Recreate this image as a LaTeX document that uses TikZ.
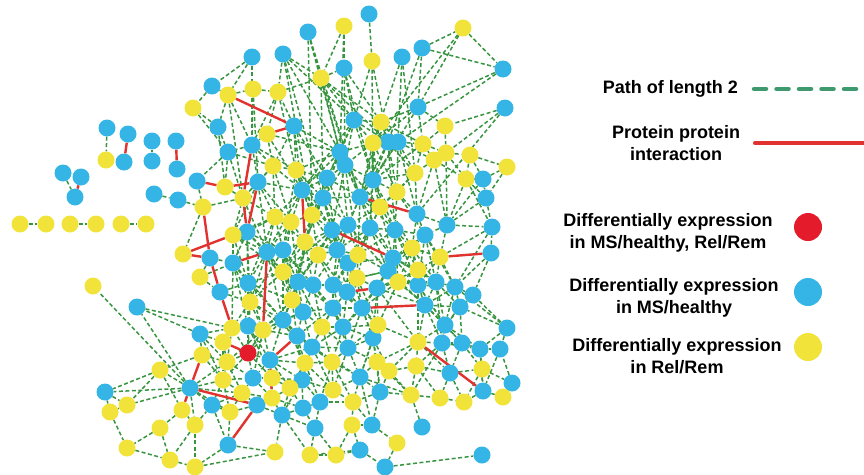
\documentclass[tikz,border=0pt]{standalone}
\usepackage{fontspec}
\setmainfont{Liberation Sans}
\usepackage{tikz}
\usetikzlibrary{backgrounds}
\definecolor{msblue}{HTML}{35B5E5}
\definecolor{relyellow}{HTML}{F2E33A}
\definecolor{bothred}{HTML}{E31B2B}
\definecolor{pathgreen}{HTML}{37943F}
\definecolor{legendgreen}{HTML}{3E9A6E}
\definecolor{ppired}{HTML}{E0322F}

\begin{document}
\begin{tikzpicture}[
  x=1pt, y=-1pt,
  gene/.style={circle, inner sep=0pt, minimum size=17pt},
  bluegene/.style={gene, fill=msblue},
  yellowgene/.style={gene, fill=relyellow},
  redgene/.style={gene, fill=bothred},
  pathtwo/.style={draw=pathgreen, line width=1.5pt, dash pattern=on 4pt off 2.5pt},
  ppi/.style={draw=ppired, line width=2.4pt},
  legendtext/.style={font=\fontsize{18}{22}\selectfont\bfseries, align=center, inner sep=0pt},
  legendpath/.style={draw=legendgreen, line width=4.5pt, line cap=round, dash pattern=on 12pt off 10.5pt},
  legendppi/.style={draw=ppired, line width=4pt, line cap=round}
]
  \useasboundingbox (0,0) rectangle (864,474);

  % genes in MS/healthy
  \foreach \n/\x/\y in {b1/369/14, b2/308/32, b3/422/48, b4/402/57, b5/252/57, b6/283/54, b7/344/68, b8/503/69,
    b9/212/86, b10/418/107, b11/505/108, b12/354/120, b13/294/126, b14/218/127, b15/252/145, b16/340/152,
    b17/388/142, b18/398/142, b19/228/152, b20/107/128, b21/128/134, b22/124/162, b23/152/141, b24/152/161,
    b25/176/141, b26/177/169, b27/63/173, b28/81/177, b29/75/197, b30/154/194, b31/178/200, b32/197/181,
    b33/258/182, b34/302/190, b35/327/178, b36/323/198, b37/247/232, b38/373/180, b39/483/179, b40/486/198,
    b41/360/197, b42/417/214, b43/447/225, b44/492/227, b45/345/165, b46/210/258, b47/233/263, b48/267/252,
    b49/283/250, b50/248/283, b51/313/285, b52/298/282, b53/220/292, b54/303/312, b55/200/334, b56/248/326,
    b57/283/320, b58/297/336, b59/332/230, b60/348/225, b61/370/228, b62/395/230, b63/425/235, b64/491/253,
    b65/337/250, b66/393/258, b67/388/271, b68/348/263, b69/418/285, b70/436/282, b71/455/287, b72/473/295,
    b73/333/285, b74/347/292, b75/377/288, b76/425/305, b77/460/307, b78/333/308, b79/362/308, b80/445/325,
    b81/507/328, b82/343/327, b83/312/347, b84/348/348, b85/373/338, b86/442/343, b87/462/343, b88/480/349,
    b89/500/349, b90/450/373, b91/512/383, b92/360/377, b93/302/380, b94/380/392, b95/483/391, b96/320/402,
    b97/303/408, b98/315/428, b99/372/425, b100/422/427, b101/360/450, b102/385/467, b103/482/455, b104/270/360,
    b105/253/378, b106/190/388, b107/105/392, b108/212/405, b109/257/405, b110/282/415, b111/228/445, b112/137/307}
    \node[bluegene] (\n) at (\x,\y) {};

  % genes in Rel/Rem
  \foreach \n/\x/\y in {y1/344/26, y2/463/28, y3/372/61, y4/321/78, y5/253/89, y6/278/92, y7/228/95, y8/193/108,
    y9/381/122, y10/445/126, y11/267/134, y12/373/143, y13/423/144, y14/446/153, y15/470/155, y16/106/160,
    y17/20/224, y18/46/224, y19/70/224, y20/96/224, y21/121/224, y22/146/224, y23/273/166, y24/296/170,
    y25/225/187, y26/243/198, y27/203/207, y28/275/217, y29/291/222, y30/312/215, y31/434/160, y32/507/167,
    y33/415/173, y34/466/179, y35/397/192, y36/380/207, y37/233/235, y38/183/254, y39/305/242, y40/318/255,
    y41/200/277, y42/283/272, y43/250/302, y44/292/300, y45/232/328, y46/263/330, y47/322/327, y48/412/248,
    y49/440/257, y50/358/255, y51/418/270, y52/357/278, y53/398/282, y54/378/325, y55/418/342, y56/305/363,
    y57/332/362, y58/377/362, y59/389/371, y60/416/366, y61/482/369, y62/333/390, y63/411/395, y64/440/398,
    y65/464/402, y66/503/397, y67/353/402, y68/352/425, y69/397/443, y70/310/455, y71/336/455, y72/223/342,
    y73/202/355, y74/227/362, y75/160/370, y76/223/380, y77/272/378, y78/242/393, y79/272/398, y80/290/388,
    y81/127/405, y82/110/412, y83/230/412, y84/182/410, y85/160/428, y86/195/425, y87/127/448, y88/170/460,
    y89/195/467, y90/275/452, y91/93/286}
    \node[yellowgene] (\n) at (\x,\y) {};

  % gene in both
  \node[redgene] (r1) at (248,353) {};

  \begin{pgfonlayer}{background}
    % paths of length 2
    \foreach \a/\b in {b1/y3, b2/y4, b2/b16, y1/y4, y1/b7, y1/b16, b6/y4, b6/y6, b6/b16, b6/b12, b5/b9, b5/y7,
      b9/y8, b9/y7, y7/y5, y5/y6, y6/y4, y4/b7, y4/b12, y4/y9, y4/b16, y4/b17, b7/y9, b7/b12, y3/b12, y3/b17,
      b4/b18, b4/y12, b3/y2, b3/b8, y2/b8, y2/b10, b3/b10, b10/b8, b10/y9, b10/y12, b10/y13, b11/y10, b11/y14,
      b10/y10, y10/y13, y10/y14, b13/b16, b13/y6, b13/y23, b13/y24, y6/b15, y6/y11, y5/b15, y7/b14, y7/b15,
      b14/b19, b14/y8, b15/b19, b15/y11, y11/y23, y11/b16, y8/b19, b19/y25, b19/b32, b15/y23, b15/b33,
      b12/y9, b12/b16, b12/y12, b12/b17, b12/b45, b12/b35, y9/b17, y9/b18, y9/y12, y9/y13,
      b16/b45, b16/b35, b16/y12, b16/y24, b16/b34, b17/b18, b17/y12, b17/b38, b17/y33, b17/y35,
      b18/y13, b18/y33, b18/y31, b18/b38, y12/b38, y12/b45, y12/b41, y13/y14, y13/y31, y13/y33,
      y14/y15, y14/y31, y14/y34, y15/y34, y15/b39, y15/y32, b45/b35, b45/b38, b45/b41, b45/b36,
      y31/y33, y31/y34, y31/b43, y33/b38, y33/y35, y33/b42, b38/y35, b38/b41, b38/y36, b38/b61,
      y34/b39, y34/b40, y34/b43, b39/b40, b39/y32, y32/b40, b35/b34, b35/b36, b35/y24, y24/y23, y24/b34,
      y23/b34, y23/y28, y23/b33, b34/b36, b34/y30, b34/y29, b36/y30, b36/b41, b36/b59, b36/b60,
      b41/y36, b41/b60, b41/b61, y35/y36, y35/b42, y35/b62, y36/b61, y36/b62, b40/b43, b40/b44,
      y30/y29, y30/b59, y30/y39, y29/y28, y29/y39, y29/b49, y28/b49, y28/b48, y28/b37, b33/y28, b33/y26,
      b43/b44, b43/b63, b43/y49, b59/b60, b59/b65, b59/y39, b59/y40, b60/b61, b60/b65, b60/y50,
      b61/b62, b61/y50, b61/b66, b62/b63, b62/y48, b62/b66, b63/y48, b63/y49, b37/y37, b37/b48, b37/b47,
      y37/b47, y37/y26, y39/y40, y39/b49, y39/y42, b49/b48, b49/y42, b49/b52, b48/y42, b48/b50,
      y48/y49, y48/y51, y48/b66, y50/b65, y50/b68, y50/y52, b65/y40, b65/b68, b65/b73, y40/b51, y40/b73,
      y49/b64, y49/b70, y49/y51, b64/b72, b64/b44, b66/b67, b66/y51, b66/y53, b68/y52, b68/b73, b68/b74,
      b67/y52, b67/y53, b67/b75, y51/b69, y51/y53, y51/b70, y42/b52, y42/b50, y42/y44, y52/b74, y52/b75,
      y53/b75, y53/b69, b47/b50, b47/y43, b52/b51, b52/y44, b52/b54, b51/b73, b51/b54, b51/b78,
      b73/b74, b73/b78, b74/b79, b74/b78, b75/b79, b75/y54, b69/b70, b69/b76, b70/b71, b70/b76,
      b71/b72, b71/b77, b72/b77, b72/b81, b50/y43, b50/y44, y43/b56, y43/y46, y43/b57, y44/b54, y44/b57,
      b54/b78, b54/y47, b54/b57, b78/b79, b78/y47, b78/b82, b79/y54, b79/b82, b76/b77, b76/b80, b76/y55,
      b77/b80, b77/b87, b80/b86, b80/b87, b80/y55, b81/b89, b81/b77, y54/b85, y54/y55, b57/y46, b57/b58,
      y47/b82, y47/b83, b82/b84, b82/b85, y46/b56, y46/b58, b56/y45, b56/b104, b58/b83,
      b85/b84, b85/y58, y55/b86, y55/y60, b86/b87, b86/b90, b87/b88, b88/b89, b88/y61,
      b83/b84, b83/y56, b83/y57, b84/y57, b84/b92,
      y56/y57, y56/b93, y56/y62, y57/b92, y57/y62, y58/y59, y58/b92, y58/b94, y59/y60, y59/y63, y59/b94,
      y60/y63, y60/b90, b90/y61, b90/y64, b90/y65, y61/b95, y61/b91, b95/y66, b95/y65, b91/y66, b91/b89,
      b92/y62, b92/b94, b92/y67, b93/y62, b93/b96, b93/b97, y62/b96, y62/y67, b94/y63, b94/y67, b94/b99,
      y63/y64, y63/b100, y64/y65, b96/b97, b96/y67, b96/b98, b97/b98, y67/y68, y67/b99, b98/y70, b98/y71,
      y68/b101, y68/y71, y68/b99, b99/y69, b101/y71, b101/y70, b101/b102, y69/b102, b102/b103, y70/y71,
      b55/y72, b55/y73, b55/y45, b55/b112, y72/y74, y72/y45, r1/y74, r1/b56, r1/y46, r1/b104, r1/y45, r1/b105,
      y73/y74, y73/y75, y74/y76, y74/b105, b104/b105, b104/y77, b104/b83, y76/b105, y76/y78, y76/b106,
      b105/y77, b105/y78, y77/y79, y77/y80, y78/y79, y78/y83, y78/b109, y79/b110, y79/y80, y80/b110, y80/b93,
      b106/y75, b106/b107, b106/y81, b106/y86, b106/b108, b106/y83, b106/y91, b106/b112,
      y75/b107, y75/y81, y75/y84, b107/y82, b107/y81, y81/y82, y82/y87, y84/y85, y84/y86, y85/y87, y85/y88,
      y86/y88, y86/y89, y86/b108, b108/y83, b108/b111, y83/b111, b109/b110, b110/y90, b110/b98,
      b111/y90, b111/y89, y87/y88, y88/y89, y89/y90, b112/y45,
      b32/y27, y25/y26, y27/y26, y27/y38, b30/b31, b31/y27, y41/b46, y41/b53, y41/b47, b46/b47,
      b53/b50, b53/y43, b20/y16, b23/b24, b27/b29, y17/y18, y19/y20, y21/y22}
      \draw[pathtwo] (\a) -- (\b);
    % more paths of length 2 into the core
    \foreach \a/\b in {b2/b41, b2/y30, y1/b45, b6/y30, b6/b36, y4/b41, y4/b36, b7/b38, y3/b38, b4/y33,
      b3/b17, y2/y12, b8/b18, b10/b38, b11/b42, y7/y26, b14/y25, y5/b33, y6/y24, b5/b15,
      b16/b41, b35/b60, b35/y30, y24/y30, y23/y29, b34/b59, y30/b65, y29/b48, y28/y37, b36/y39, b36/b65,
      b41/b62, b41/y50, b45/y36, y12/y35, b17/b41, b18/y35, y13/b38, y33/y36, y31/b42, y14/b43, y34/b44,
      b39/b43, b42/b43, b42/b63, b42/y48, y36/b60, b60/y40, b61/b65, b61/b68, b62/y50, b62/y51, b63/b66,
      b63/b70, y48/b67, y48/b69, y49/b69, y49/b71, b44/b71, b44/y49, b64/b71, b59/y42, y39/b52, y39/b65,
      y40/y42, y40/b52, y40/b74, b68/b66, y50/b67, y50/b73, y52/b73, y52/b79, y52/b67, b67/b69, b66/b69,
      y53/b70, y53/b79, b75/y51, b75/b76, b69/b71, b69/b80, b70/b77, b70/b80, b71/b76, b71/b80, b72/b80,
      b73/b79, b74/b82, b75/b85, b79/b85, b76/b86, y54/b82, y54/b84, b82/b83, y47/b84, b51/y47, b52/b57,
      y44/b58, y44/y46, b54/b58, b54/b83, b78/b83, b78/b84, y42/y43, y42/b54, b48/y43, b48/y44, b49/y44,
      b49/b51, b37/y43, b37/b50, y37/b50, y37/b48, b33/y37, b33/b48, y28/y39, y26/y28, b47/b56, b47/y45,
      b50/b56, b50/b57, y43/y45, y43/r1, b56/b57, b57/b104, b57/b83, y46/b104, y46/y74, b58/y56, b58/y57,
      b83/b92, b84/y58, b85/b92, b85/y59, y55/y59, y55/b90, b86/y60, b86/b88, b87/y61, b87/b90, b80/b88,
      b81/b88, b89/b95, y61/y65, b88/b95, y60/y64, y58/y63, b92/y63, b92/b99, y57/b96, y57/y67, b83/b93,
      y56/b96, y56/y80, b93/y80, b93/b110, b104/y80, b104/b93, y77/b93, b105/y79, r1/y77, r1/y76, y74/y78,
      y72/y76, b55/y76, b55/y74, y45/y74, y73/y76, b106/y78, b106/y74, y76/y83, y76/b108, b108/y78,
      y83/b109, b110/b97, b110/y70, y79/b97, y80/b97, b16/b36, b35/b41, y24/b36, b13/b35, b13/b34,
      y11/b34, b15/y24, b19/y26, b19/y23, b33/y29, b33/b34, y23/y26}
      \draw[pathtwo] (\a) -- (\b);
    % long paths of length 2 across the core
    \foreach \a/\b in {b16/b60, b16/y39, b45/b59, b45/y50, y12/b61, y12/y36, b17/b62, b18/b42, y9/b41,
      b12/b34, b12/b38, y24/b59, y24/b49, b35/b65, b34/y28, b34/b48, y30/y40, y30/b52, b36/y42, b36/b68,
      b41/b65, b41/b66, b38/y48, b38/b62, y35/b63, y36/b66, y36/y50, b60/b73, b60/b67, b61/y52, b61/b67,
      b62/y53, b62/b69, b63/b69, b63/b71, y48/b70, y48/y53, b66/b75, b66/b70, b65/b74, b65/b51, b59/b52,
      b59/b68, y39/b51, y39/y44, b49/y43, b49/b54, b48/b57, y42/b57, y42/b51, b52/b78, b52/y47, b51/b82,
      b73/y54, b73/b82, b68/b79, y50/b74, y52/y54, b67/b79, b67/b76, y53/b76, y53/y54, b75/y55, b75/b82,
      b69/b80, b69/y55, b70/b86, b71/b81, b76/b87, b79/b84, b79/b85, y54/b92, b82/y57, b78/b58, b54/y46,
      b57/y56, b58/b93, y47/y57, b83/y62, b84/y62, b85/b94, y55/y58, b86/y63, y37/y42, b37/y42, b37/b49,
      y28/b50, y29/b52, y29/y42, y26/b48, b47/b57, b50/y46, y43/b58, b56/y77, y46/b105, r1/b57, b104/y56}
      \draw[pathtwo] (\a) -- (\b);
    % protein protein interactions
    \foreach \a/\b in {b21/b22, b25/b26, b28/b29, y7/b13, y11/b13, b32/y25, y25/b33, b15/y26, y26/b37,
      b33/b37, y27/b46, y38/y37, y38/b46, b46/b53, b48/y46, b47/b48, b53/y45, y49/b64, b41/b42, y55/b95,
      b79/b76, b106/b109, b106/y84, b111/b109, y79/b104, b106/y73, y72/r1, b34/y39, b59/b66, b58/b104, b74/b75}
      \draw[ppi] (\a) -- (\b);
  \end{pgfonlayer}

  % legend
  \node[legendtext, anchor=east] (pathlabel) at (738,89) {Path of length 2};
  \coordinate (pathstart) at (754,89);
  \coordinate (pathend) at (870,89);
  \draw[legendpath] (pathstart) -- (pathend);

  \node[legendtext] (ppilabel) at (676,143) {Protein protein\\interaction};
  \coordinate (ppistart) at (755,143);
  \coordinate (ppiend) at (870,143);
  \draw[legendppi] (ppistart) -- (ppiend);

  \node[legendtext] (bothlabel) at (668,233) {Differentially expression\\in MS/healthy, Rel/Rem};
  \node[redgene, minimum size=28pt] (bothdot) at (808,227) {};
  \node[legendtext] (mslabel) at (674,298) {Differentially expression\\in MS/healthy};
  \node[bluegene, minimum size=28pt] (msdot) at (808,292) {};
  \node[legendtext] (rellabel) at (677,356) {Differentially expression\\in Rel/Rem};
  \node[yellowgene, minimum size=28pt] (reldot) at (808,347) {};
\end{tikzpicture}
\end{document}
